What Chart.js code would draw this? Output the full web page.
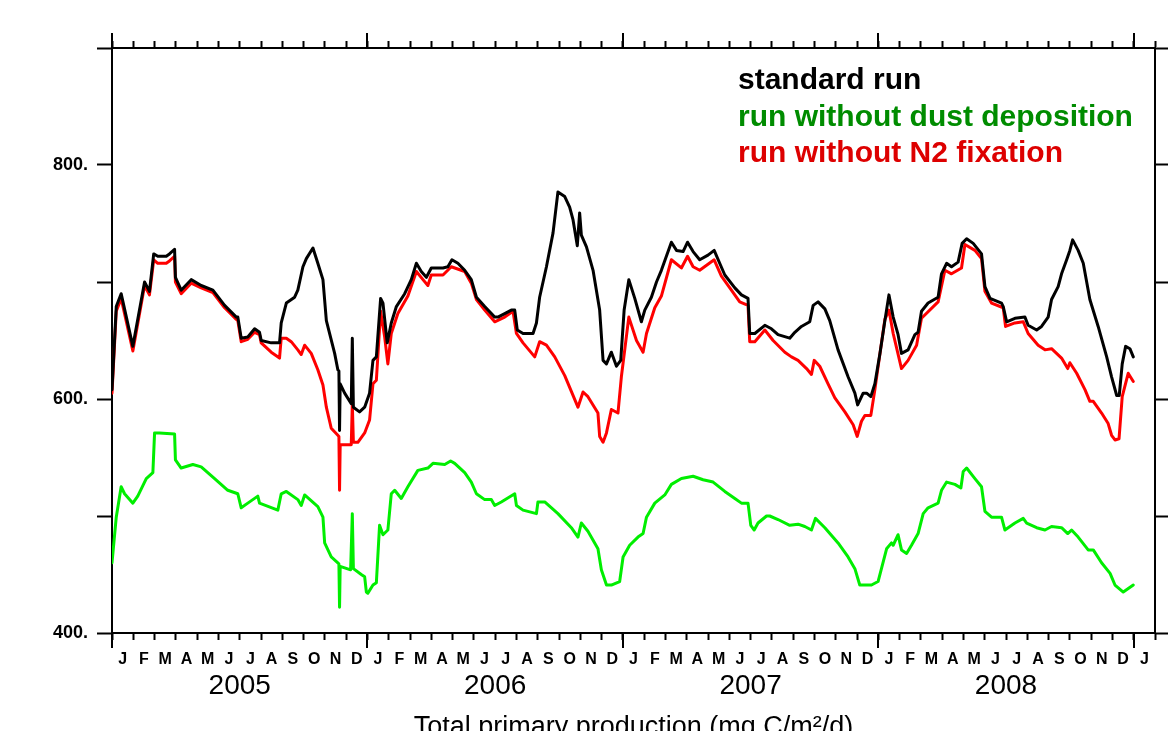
<!DOCTYPE html>
<html>
<head>
<meta charset="utf-8">
<script src="https://cdn.jsdelivr.net/npm/chart.js@4.4.1/dist/chart.umd.min.js"></script>
<style>
  html, body { margin: 0; padding: 0; background: #ffffff; }
  canvas { display: block; }
</style>
</head>
<body>
<canvas id="chart" width="1176" height="731"></canvas>
<script>
// Axis labels
const monthLetters = ['J', 'F', 'M', 'A', 'M', 'J', 'J', 'A', 'S', 'O', 'N', 'D'];
const yearLabels = ['2005', '2006', '2007', '2008'];
const yLabelValues = [400, 600, 800];
const seriesNames = ['standard run', 'run without dust deposition', 'run without N2 fixation'];

// Time in months since 1 Jan 2005, values in mg C/m2/d

// standard run
const stdMonths = [0,0.20,0.43,0.98,1.53,1.76,1.96,2.15,2.55,2.70,
  2.94,2.98,3.25,3.72,4.19,4.74,5.29,5.84,5.91,6.07,
  6.38,6.70,6.93,7.01,7.48,7.87,7.95,8.19,8.58,8.73,
  8.97,9.13,9.44,9.67,9.91,10.07,10.46,10.61,10.66,10.69,
  10.72,10.93,11.24,11.29,11.34,11.63,11.87,12.10,12.26,12.42,
  12.62,12.73,12.93,13.12,13.36,13.75,14.06,14.30,14.53,14.77,
  15.00,15.55,15.78,15.97,16.25,16.57,16.88,17.12,17.51,17.98,
  18.13,18.45,18.76,18.92,19.04,19.31,19.78,19.94,20.09,20.41,
  20.72,20.95,21.27,21.50,21.66,21.86,21.97,22.05,22.29,22.60,
  22.91,23.07,23.23,23.46,23.70,23.90,24.06,24.28,24.56,24.87,
  25.03,25.34,25.58,25.81,26.28,26.52,26.83,27.04,27.30,27.61,
  28.00,28.29,28.55,28.79,29.26,29.57,29.88,29.96,30.20,30.67,
  30.98,31.29,31.84,32.08,32.39,32.78,32.94,33.17,33.49,33.72,
  34.11,34.58,34.90,35.03,35.29,35.45,35.65,35.84,36.08,36.31,
  36.50,36.70,36.93,37.09,37.40,37.72,37.87,38.03,38.34,38.81,
  38.97,39.21,39.44,39.75,39.94,40.15,40.46,40.85,41.01,41.25,
  41.79,41.87,42.03,42.42,42.89,43.04,43.44,43.67,43.98,44.14,
  44.45,44.61,44.85,45.00,45.13,45.39,45.63,45.94,46.33,46.73,
  46.96,47.20,47.32,47.46,47.62,47.82,47.98];
const stdValues = [608,679,690,645,700,692,724,722,722,724,
  728,704,693,702,697,693,680,670,670,652,
  653,660,657,650,648,648,665,682,687,693,
  713,720,729,716,702,667,639,625,624,573,
  613,605,596,652,593,589,593,605,633,636,
  686,682,648,665,679,690,702,716,709,704,
  712,712,713,719,716,710,702,687,679,670,
  670,673,676,676,659,656,656,665,687,713,
  742,777,773,764,753,731,759,740,730,710,
  676,633,630,640,628,633,676,702,686,666,
  676,687,700,710,734,727,726,734,726,719,
  723,727,716,706,695,689,686,656,656,663,
  660,655,652,657,662,666,680,683,677,667,
  642,619,605,595,605,605,602,613,639,667,
  689,670,655,639,642,655,657,675,682,687,
  707,716,713,717,733,737,733,724,696,686,
  682,679,666,669,670,663,659,662,670,685,
  696,707,719,727,736,727,716,685,662,636,
  619,603,603,630,645,643,636];

// run without dust deposition
const dustMonths = [0,0.20,0.43,0.59,0.98,1.21,1.61,1.92,2.00,2.23,
  2.94,2.98,3.25,3.80,4.19,4.82,5.44,5.91,6.07,6.38,
  6.85,6.93,7.79,7.95,8.19,8.73,8.89,9.05,9.67,9.91,
  9.99,10.30,10.61,10.66,10.69,10.72,11.21,11.29,11.34,11.71,
  11.87,11.95,12.02,12.26,12.42,12.57,12.73,12.96,13.12,13.28,
  13.59,13.90,14.37,14.84,15.08,15.63,15.91,16.10,16.57,16.88,
  17.12,17.51,17.82,17.98,18.29,18.92,19.00,19.31,19.94,20.01,
  20.33,20.95,21.58,21.89,22.05,22.36,22.83,22.99,23.23,23.46,
  23.85,24.01,24.32,24.71,24.95,25.11,25.50,25.97,26.28,26.75,
  27.30,27.77,28.24,28.79,29.26,29.57,29.88,30.01,30.17,30.35,
  30.75,30.90,31.29,31.84,32.23,32.55,32.86,33.05,33.49,34.11,
  34.58,34.90,35.13,35.68,35.99,36.39,36.62,36.70,36.93,37.09,
  37.33,37.56,37.87,38.11,38.34,38.81,38.97,39.21,39.60,39.88,
  39.99,40.15,40.54,40.85,41.01,41.32,41.79,41.95,42.42,42.81,
  42.97,43.44,43.83,44.14,44.61,44.90,45.08,45.39,45.86,46.10,
  46.49,46.89,47.12,47.51,47.98];
const dustValues = [460,499,525,519,511,517,532,537,571,571,
  570,548,541,544,542,532,522,519,507,511,
  517,511,505,519,521,514,509,518,508,499,
  477,465,460,459,422,457,454,502,455,450,
  448,435,434,441,443,492,484,488,519,522,
  515,525,539,541,545,544,547,545,537,529,
  519,514,514,509,512,519,509,505,502,512,
  512,502,490,482,494,487,472,454,441,441,
  444,465,475,482,485,499,511,518,527,532,
  534,531,529,521,515,511,511,492,488,494,
  500,500,497,492,493,491,488,498,490,477,
  465,455,441,441,444,472,477,475,484,471,
  468,475,485,502,507,511,522,529,527,524,
  538,541,532,525,504,499,499,488,494,498,
  494,490,488,491,490,485,488,482,471,471,
  460,451,441,435,441];

// run without N2 fixation
const nfixMonths = [0,0.20,0.43,0.98,1.53,1.76,1.96,2.15,2.55,2.70,
  2.94,2.98,3.25,3.72,4.19,4.74,5.29,5.84,5.91,6.07,
  6.38,6.70,6.93,7.01,7.48,7.87,7.95,8.19,8.42,8.73,
  8.89,9.05,9.36,9.67,9.91,10.07,10.30,10.61,10.66,10.69,
  10.72,11.24,11.29,11.34,11.55,11.87,12.10,12.26,12.42,12.62,
  12.81,12.96,13.12,13.43,13.90,14.30,14.61,14.84,15.00,15.55,
  15.94,16.57,16.88,17.12,17.51,17.98,18.45,18.84,19.00,19.31,
  19.86,20.09,20.41,20.80,21.27,21.89,22.13,22.36,22.83,22.91,
  23.07,23.23,23.46,23.77,23.93,24.28,24.64,24.95,25.11,25.50,
  25.81,26.28,26.75,27.04,27.30,27.61,28.29,28.63,29.10,29.49,
  29.88,29.96,30.20,30.67,31.06,31.61,31.92,32.23,32.63,32.86,
  32.99,33.25,33.64,33.96,34.43,34.82,35.01,35.21,35.37,35.65,
  35.84,36.08,36.31,36.50,36.70,37.09,37.40,37.80,38.03,38.81,
  39.13,39.44,39.91,40.07,40.54,40.85,41.01,41.32,41.87,41.98,
  42.42,42.81,43.04,43.51,43.83,44.14,44.61,44.90,45.00,45.32,
  45.71,45.94,46.10,46.49,46.80,46.96,47.12,47.31,47.46,47.74,
  47.98];
const nfixValues = [605,675,686,641,697,689,719,716,716,718,
  722,700,690,699,695,691,678,668,667,649,
  651,657,655,648,640,635,652,652,649,642,
  638,646,639,625,612,593,575,569,568,522,
  561,561,596,563,563,571,582,613,616,675,
  653,630,656,673,688,709,702,697,706,706,
  713,709,699,685,676,666,670,675,656,648,
  636,649,646,636,620,593,606,602,588,568,
  563,571,591,588,619,670,650,640,656,678,
  688,719,712,722,713,710,719,705,693,683,
  680,649,649,659,650,640,636,633,626,621,
  633,628,613,601,589,578,568,581,586,586,
  608,639,668,676,656,626,633,646,669,683,
  710,707,712,732,727,720,692,682,678,662,
  665,666,656,646,642,643,635,626,631,622,
  608,598,598,588,579,569,565,566,602,622,
  615];

const lineColors = ['#000000', '#00ee00', '#ff0000'];
const legendColors = ['#000000', '#008c00', '#dd0000'];

const toPoints = (months, values) => months.map((m, i) => ({ x: m, y: values[i] }));

function monthTicks(step) {
  const t = [];
  for (let v = 0; v <= 49; v += step) t.push({ value: v });
  return t;
}

Chart.defaults.font.family = '"Liberation Sans", Arial, sans-serif';
Chart.defaults.color = '#000000';

// Long year ticks on the top and bottom axes, plus the coloured run labels
const framePlugin = {
  id: 'frame',
  afterDraw(chart) {
    const ctx = chart.ctx;
    const xs = chart.scales.x;
    const { top, bottom } = chart.chartArea;
    ctx.save();
    ctx.strokeStyle = '#000000';
    ctx.lineWidth = 2;
    for (let i = 0; i <= yearLabels.length; i++) {
      const px = Math.round(xs.getPixelForValue(i * 12));
      ctx.beginPath();
      ctx.moveTo(px, bottom);
      ctx.lineTo(px, bottom + 15);
      ctx.moveTo(px, top);
      ctx.lineTo(px, top - 15);
      ctx.stroke();
    }
    ctx.font = 'bold 30px "Liberation Sans", Arial, sans-serif';
    ctx.textAlign = 'left';
    ctx.textBaseline = 'alphabetic';
    chart.data.datasets.forEach((ds, i) => {
      ctx.fillStyle = legendColors[i];
      ctx.fillText(ds.label, 738, 89 + i * 36.5);
    });
    ctx.restore();
  }
};

const axisBorder = { display: true, color: '#000000', width: 2 };

new Chart(document.getElementById('chart'), {
  type: 'line',
  data: {
    datasets: [
      { label: seriesNames[0], data: toPoints(stdMonths, stdValues), borderColor: lineColors[0] },
      { label: seriesNames[1], data: toPoints(dustMonths, dustValues), borderColor: lineColors[1] },
      { label: seriesNames[2], data: toPoints(nfixMonths, nfixValues), borderColor: lineColors[2] }
    ]
  },
  options: {
    responsive: false,
    animation: false,
    events: [],
    layout: { padding: 0 },
    elements: {
      point: { radius: 0 },
      line: { borderWidth: 3, tension: 0, borderJoinStyle: 'round', borderCapStyle: 'round', fill: false }
    },
    plugins: {
      legend: { display: false },
      tooltip: { enabled: false },
      title: { display: false }
    },
    scales: {
      x: {
        type: 'linear', position: 'bottom', min: 0, max: 49, weight: 0,
        afterBuildTicks: s => { s.ticks = monthTicks(0.5); },
        afterFit: s => { s.height = 36; },
        grid: {
          drawOnChartArea: false, drawTicks: true, tickLength: 7, tickWidth: 2,
          tickColor: c => (c.tick && Number.isInteger(c.tick.value)) ? '#000000' : 'rgba(0,0,0,0)'
        },
        border: axisBorder,
        ticks: {
          autoSkip: false, maxRotation: 0, minRotation: 0, padding: 10,
          font: { size: 16, weight: 'bold' },
          callback: v => Number.isInteger(v) ? '' : monthLetters[Math.floor(v) % 12]
        }
      },
      xYear: {
        type: 'linear', position: 'bottom', min: 0, max: 49, weight: 1,
        afterBuildTicks: s => { s.ticks = yearLabels.map((_, i) => ({ value: i * 12 + 6 })); },
        afterFit: s => { s.height = 62; },
        grid: { display: false, drawTicks: false, drawOnChartArea: false },
        border: { display: false },
        ticks: {
          autoSkip: false, maxRotation: 0, minRotation: 0, padding: 0,
          font: { size: 28 },
          callback: v => yearLabels[Math.round((v - 6) / 12)]
        },
        title: {
          display: true,
          text: 'Total primary production (mg C/m²/d)',
          font: { size: 27, lineHeight: 1 },
          padding: { top: 0, bottom: -10 }
        }
      },
      xTop: {
        type: 'linear', position: 'top', min: 0, max: 49,
        afterBuildTicks: s => { s.ticks = monthTicks(1); },
        afterFit: s => { s.height = 48; },
        grid: { drawOnChartArea: false, tickLength: 7, tickWidth: 2, tickColor: '#000000' },
        border: axisBorder,
        ticks: { display: false, autoSkip: false }
      },
      y: {
        type: 'linear', position: 'left', min: 400, max: 900,
        afterFit: s => { s.width = 112; },
        grid: { drawOnChartArea: false, tickLength: 15, tickWidth: 2, tickColor: '#000000' },
        border: axisBorder,
        ticks: {
          stepSize: 100, padding: 9,
          font: { size: 18, weight: 'bold' },
          callback: v => yLabelValues.includes(v) ? v + '.' : ''
        }
      },
      yRight: {
        type: 'linear', position: 'right', min: 400, max: 900,
        afterFit: s => { s.width = 21; },
        grid: { drawOnChartArea: false, tickLength: 13, tickWidth: 2, tickColor: '#000000' },
        border: axisBorder,
        ticks: { display: false, stepSize: 100 }
      }
    }
  },
  plugins: [framePlugin]
});
</script>
</body>
</html>
